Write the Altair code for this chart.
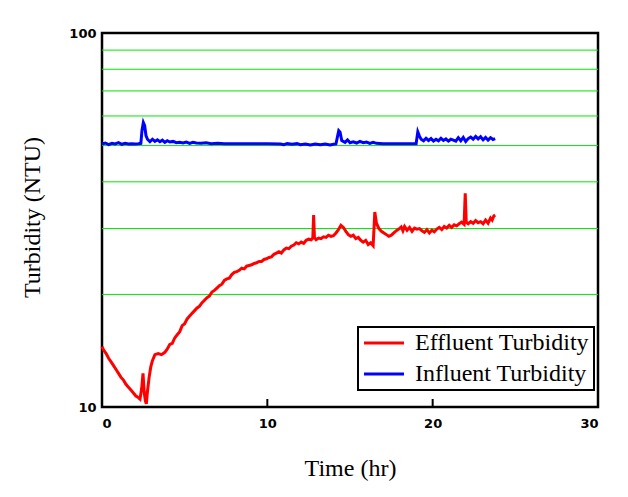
import altair as alt
import pandas as pd

# Effluent turbidity (time in hr, NTU)
eff_time = [0.0, 0.1, 0.25, 0.4, 0.55, 0.7, 0.85, 1.0, 1.15, 1.3, 1.45, 1.6, 1.75, 1.9, 2.05, 2.2, 2.3,
            2.4, 2.48, 2.55, 2.62, 2.68, 2.75, 2.85, 2.95, 3.05, 3.2, 3.4, 3.6, 3.8, 3.95, 4.1, 4.25,
            4.4, 4.55, 4.7, 4.85, 5.0, 5.15, 5.3, 5.45, 5.6, 5.75, 5.9, 6.05, 6.2, 6.35, 6.5, 6.65,
            6.8, 6.95, 7.1, 7.25, 7.4, 7.55, 7.7, 7.85, 8.0, 8.15, 8.3, 8.45, 8.6, 8.75, 8.9, 9.05,
            9.2, 9.35, 9.5, 9.65, 9.8, 9.95, 10.1, 10.25, 10.4, 10.55, 10.7, 10.85, 11.0, 11.15,
            11.3, 11.45, 11.6, 11.75, 11.9, 12.05, 12.2, 12.35, 12.5, 12.65, 12.75, 12.8, 12.85,
            12.95, 13.1, 13.25, 13.4, 13.55, 13.7, 13.85, 14.0, 14.15, 14.3, 14.45, 14.6, 14.75,
            14.9, 15.05, 15.2, 15.35, 15.5, 15.65, 15.8, 15.95, 16.1, 16.25, 16.4, 16.5, 16.6,
            16.75, 16.9, 17.05, 17.2, 17.35, 17.5, 17.65, 17.8, 17.95, 18.1, 18.2, 18.3, 18.45,
            18.6, 18.75, 18.9, 19.05, 19.2, 19.35, 19.5, 19.65, 19.8, 19.95, 20.1, 20.25, 20.4,
            20.55, 20.7, 20.85, 21.0, 21.15, 21.3, 21.45, 21.6, 21.75, 21.9, 21.97, 22.03, 22.15,
            22.3, 22.45, 22.6, 22.75, 22.9, 23.05, 23.2, 23.35, 23.5, 23.6, 23.7, 23.78]
eff_value = [14.5, 14.2, 13.9, 13.5, 13.2, 12.9, 12.6, 12.3, 12.0, 11.8, 11.5, 11.3, 11.1, 10.9, 10.7,
             10.6, 10.5, 11.2, 12.3, 11.0, 10.4, 10.2, 11.0, 12.0, 12.8, 13.3, 13.8, 13.9, 13.8,
             14.0, 14.3, 14.7, 14.8, 15.3, 15.6, 15.9, 16.5, 16.7, 17.2, 17.5, 17.8, 18.1, 18.4,
             18.6, 19.0, 19.3, 19.6, 19.8, 20.3, 20.5, 20.8, 21.1, 21.3, 21.8, 22.0, 22.1, 22.6,
             22.9, 23.0, 23.2, 23.5, 23.4, 23.8, 23.9, 24.0, 24.2, 24.3, 24.5, 24.5, 24.8, 24.9,
             25.1, 25.2, 25.6, 25.8, 26.0, 25.8, 26.3, 26.6, 26.5, 26.9, 27.1, 27.5, 27.3, 27.6,
             27.4, 27.9, 28.1, 28.0, 28.3, 32.6, 28.4, 28.0, 28.3, 28.2, 28.5, 28.4, 28.8, 28.6,
             28.7, 29.2, 29.8, 30.6, 30.2, 29.5, 28.9, 28.6, 28.8, 28.2, 28.4, 27.9, 27.6, 27.9,
             27.2, 27.5, 27.0, 33.2, 31.0, 30.0, 29.5, 29.2, 28.9, 28.6, 28.8, 29.2, 29.6, 29.9,
             30.3, 29.6, 30.4, 29.7, 30.2, 29.5, 30.1, 29.9, 30.0, 29.6, 29.3, 29.8, 29.2, 29.7,
             29.4, 29.9, 30.2, 29.8, 30.4, 30.1, 30.6, 30.2, 30.7, 30.5, 30.9, 31.2, 30.8, 37.3,
             31.2, 30.9, 31.3, 31.0, 31.5, 31.1, 31.3, 30.9, 31.6, 31.0, 32.0, 31.6, 32.4, 32.6]

# Influent turbidity (time in hr, NTU)
inf_time = [0.0, 0.2, 0.4, 0.6, 0.8, 1.0, 1.2, 1.4, 1.6, 1.8, 2.0, 2.2, 2.35, 2.42, 2.5, 2.58, 2.66,
            2.75, 2.9, 3.05, 3.2, 3.35, 3.5, 3.65, 3.8, 3.95, 4.1, 4.3, 4.5, 4.7, 4.9, 5.1, 5.3,
            5.5, 5.7, 6.0, 6.3, 6.6, 7.0, 7.4, 8.0, 9.0, 10.0, 10.8, 11.0, 11.2, 11.5, 11.8, 12.0,
            12.3, 12.6, 12.9, 13.2, 13.5, 13.8, 14.0, 14.15, 14.25, 14.32, 14.4, 14.5, 14.7, 14.85,
            15.0, 15.2, 15.4, 15.6, 15.8, 16.0, 16.2, 16.4, 16.6, 17.0, 18.0, 19.0, 19.05, 19.1,
            19.2, 19.3, 19.45, 19.6, 19.75, 19.9, 20.05, 20.2, 20.35, 20.5, 20.65, 20.8, 20.95,
            21.1, 21.25, 21.4, 21.55, 21.7, 21.85, 22.0, 22.15, 22.3, 22.45, 22.6, 22.75, 22.9,
            23.05, 23.2, 23.35, 23.5, 23.65, 23.78]
inf_value = [50.5, 50.8, 50.3, 50.7, 50.5, 50.9, 50.4, 50.7, 50.5, 50.6, 50.5, 50.6, 50.7, 55.0, 57.6,
             56.5, 53.2, 52.0, 51.2, 52.0, 51.3, 51.8, 51.2, 51.7, 51.0, 51.5, 51.1, 51.3, 50.9,
             51.0, 50.8, 51.1, 50.7, 51.0, 50.8, 50.7, 50.9, 50.6, 50.7, 50.6, 50.6, 50.6, 50.6,
             50.5, 50.3, 50.6, 50.4, 50.6, 50.3, 50.5, 50.2, 50.5, 50.3, 50.5, 50.2, 50.4, 50.5,
             53.0, 54.8, 54.3, 51.6, 51.0, 51.8, 50.9, 51.2, 50.8, 51.3, 50.9, 51.1, 50.7, 51.0,
             50.7, 50.6, 50.6, 50.6, 52.5, 54.4, 53.0, 52.0, 51.5, 52.3, 51.6, 52.2, 51.4, 52.0,
             51.5, 52.3, 51.6, 52.1, 51.4, 52.0, 51.7, 51.4, 52.5, 51.5, 52.6, 51.3, 52.2, 52.7,
             52.0, 52.9, 52.1, 52.8, 51.8, 52.6, 51.7, 52.5, 51.9, 52.2]

series_names = ["Effluent Turbidity", "Influent Turbidity"]
series_colors = ["#ff0000", "#0000ff"]

grid_values = [20, 30, 40, 50, 60, 70, 80, 90]
x_tick_values = [0, 10, 20, 30]
x_inner_ticks = [10, 20]
y_tick_values = [10, 100]

df = pd.concat([
    pd.DataFrame({"t": eff_time, "v": eff_value, "series": series_names[0]}),
    pd.DataFrame({"t": inf_time, "v": inf_value, "series": series_names[1]}),
])

W, H = 496, 374

xscale = alt.Scale(domain=[0, 30], nice=False)
yscale = alt.Scale(type="log", domain=[10, 100], nice=False)

x_axis = alt.Axis(values=x_tick_values, tickSize=0, labelPadding=10, domain=False,
                  grid=False, titleY=68, titleBaseline="alphabetic")
y_axis = alt.Axis(values=y_tick_values, tickSize=0, labelPadding=6, domain=False,
                  grid=False, titleX=-70, titleY=184, titleBaseline="middle")

grid = alt.Chart(pd.DataFrame({"g": grid_values})).mark_rule(
    color="#00e600", strokeWidth=1
).encode(y=alt.Y("g:Q", scale=yscale, title="Turbidity (NTU)", axis=y_axis))

lines = alt.Chart(df).mark_line(strokeWidth=3).encode(
    x=alt.X("t:Q", scale=xscale, title="Time (hr)", axis=x_axis),
    y=alt.Y("v:Q", scale=yscale, title="Turbidity (NTU)", axis=y_axis),
    color=alt.Color("series:N", scale=alt.Scale(domain=series_names, range=series_colors),
                    legend=alt.Legend(title=None, orient="none", legendX=256, legendY=294,
                                      symbolType="M-1,0H3", symbolSize=400,
                                      symbolStrokeWidth=3, labelFont="Liberation Serif",
                                      labelFontSize=24, labelColor="black", labelOffset=29,
                                      rowPadding=7, padding=4, strokeColor="black",
                                      labelLimit=400)),
)

ticks = alt.Chart(pd.DataFrame({"k": x_inner_ticks})).mark_rule(
    color="black", strokeWidth=2
).encode(x=alt.X("k:Q", scale=xscale, title="Time (hr)", axis=x_axis),
         y=alt.value(H - 8), y2=alt.value(H))

chart = alt.layer(grid, lines, ticks).properties(
    width=W, height=H,
    autosize=alt.AutoSizeParams(type="none"),
    padding={"left": 94, "top": 25, "right": 22, "bottom": 82},
    background="white",
).configure_view(
    stroke="black", strokeWidth=2.5
).configure_axis(
    labelFont="DejaVu Sans", labelFontWeight="bold", labelFontSize=13, labelColor="black",
    titleFont="Liberation Serif", titleFontSize=24, titleFontWeight="normal", titleColor="black",
).configure_legend(
    strokeWidth=2
)

chart.save("out.html", embed_options={"renderer": "svg", "actions": False})
